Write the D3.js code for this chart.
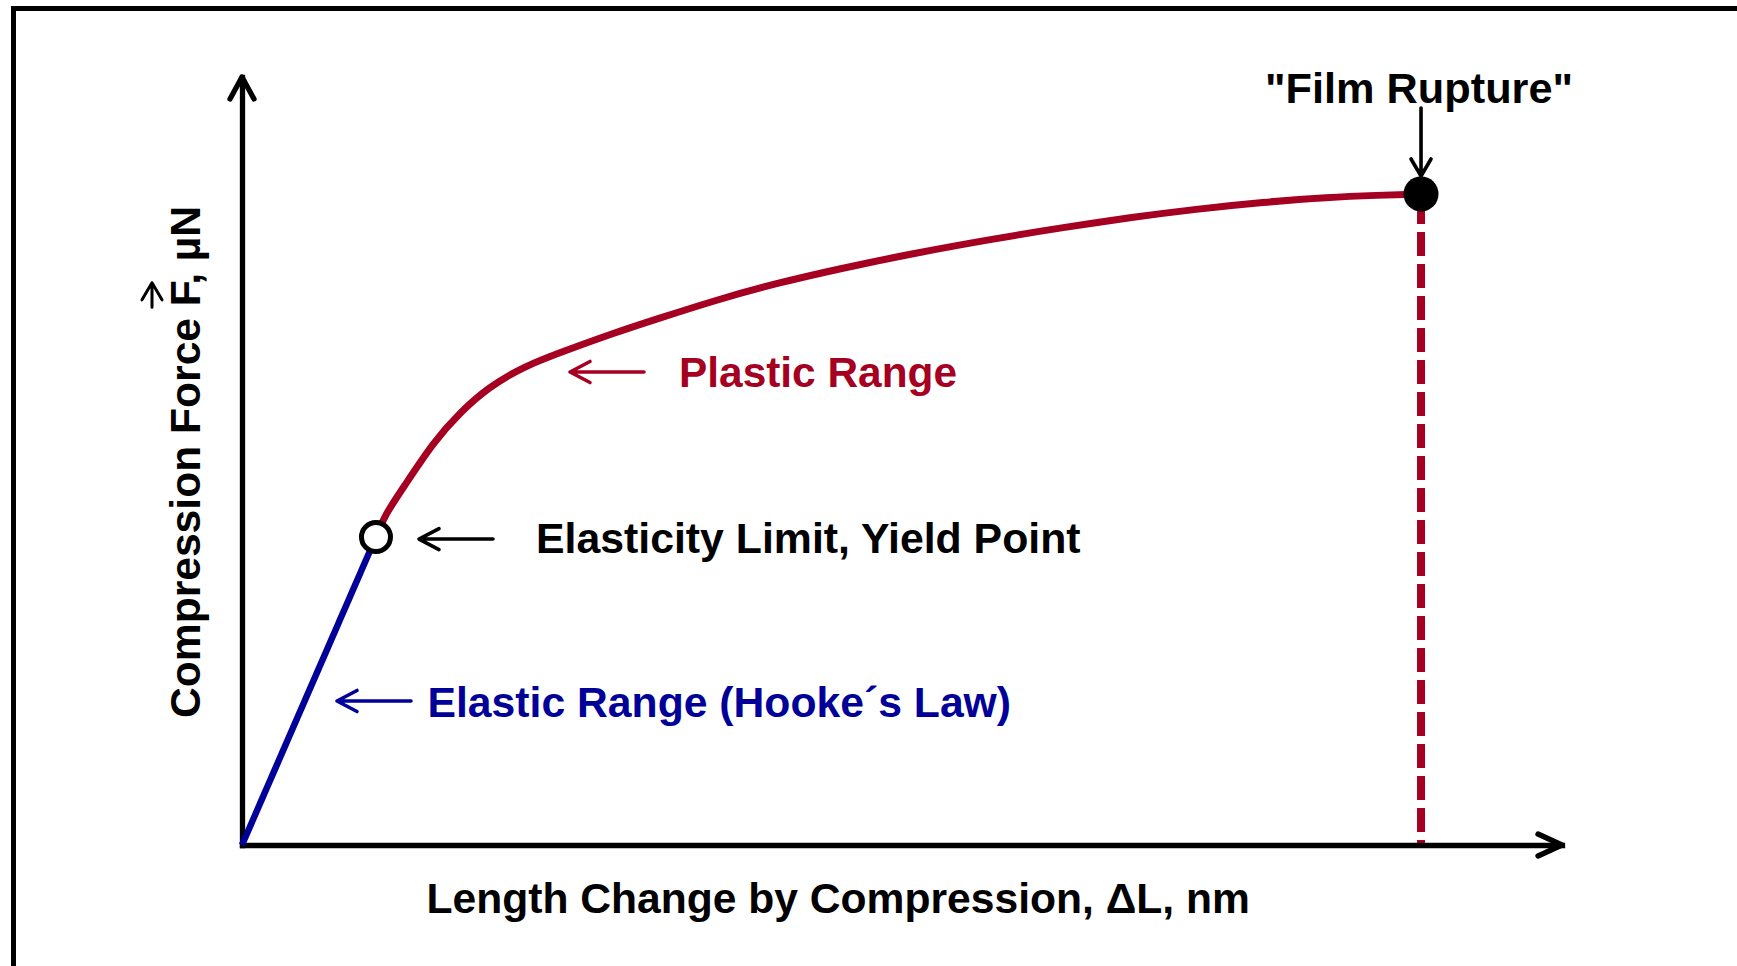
<!DOCTYPE html>
<html>
<head>
<meta charset="utf-8">
<script src="https://cdn.jsdelivr.net/npm/d3@7"></script>
<style>
  html, body { margin: 0; padding: 0; background: #fff; }
  svg { display: block; }
  text { font-family: "Liberation Sans", Arial, Helvetica, sans-serif; font-weight: bold; }
</style>
</head>
<body>
<svg id="chart" width="1737" height="966"></svg>
<script>
// ---------------- data (arbitrary units) ----------------
const elasticX = [0, 10.15];
const elasticY = [0, 40.1];
const plasticX = [10.15, 10.8, 12.17, 14.55, 16.57, 18.6, 21.29, 24.7, 28.07, 31.44, 36.0, 40.38, 45.45, 50.45, 57.2, 62.2, 67.27, 72.27, 77.35, 82.35, 86.0, 89.32];
const plasticY = [40.1, 42.9, 46.4, 52.6, 56.4, 59.5, 62.3, 64.5, 66.6, 68.5, 71.0, 73.1, 75.1, 76.9, 79.0, 80.4, 81.7, 82.8, 83.7, 84.35, 84.6, 84.77];
const yieldPoint = [10.15, 40.1];
const rupturePoint = [89.32, 84.77];
const xDomain = [0, 100];
const yDomain = [0, 100];

const xLabel = "Length Change by Compression, \u0394L, nm";
const yLabelParts = ["Compression Force ", "F", ", \u00B5N"];
const plasticLabel = "Plastic Range";
const yieldLabel = "Elasticity Limit, Yield Point";
const elasticLabel = "Elastic Range (Hooke\u00B4s Law)";
const ruptureLabel = "\"Film Rupture\"";

// ---------------- styles ----------------
const RED = "#A50021";
const BLUE = "#000099";
const BLACK = "#000";

const svg = d3.select("#chart");

const x = d3.scaleLinear().domain(xDomain).range([242, 1562]);
const y = d3.scaleLinear().domain(yDomain).range([845, 77]);

// outer frame
svg.append("rect")
  .attr("x", 13.5).attr("y", 8.5)
  .attr("width", 1800).attr("height", 1000)
  .attr("fill", "none").attr("stroke", BLACK).attr("stroke-width", 5);

// dashed rupture line (behind everything)
svg.append("line")
  .attr("x1", x(rupturePoint[0])).attr("x2", x(rupturePoint[0]))
  .attr("y1", y(rupturePoint[1])).attr("y2", y(0))
  .attr("stroke", RED).attr("stroke-width", 8)
  .attr("stroke-dasharray", "24 8").attr("stroke-dashoffset", 26);

// axes
svg.append("g").attr("transform", `translate(0,${y(0)})`)
  .call(d3.axisBottom(x).tickValues([]).tickSizeOuter(0));
svg.append("g").attr("transform", `translate(${x(0)},0)`)
  .call(d3.axisLeft(y).tickValues([]).tickSizeOuter(0));
svg.selectAll(".domain")
  .attr("stroke", BLACK).attr("stroke-width", 5.3).attr("stroke-linecap", "square");

// axis arrowheads
const ax = x(xDomain[1]), ay = y(0);
svg.append("path")
  .attr("d", `M${ax - 24},${ay - 11}L${ax},${ay}L${ax - 24},${ay + 11}`)
  .attr("fill", "none").attr("stroke", BLACK).attr("stroke-width", 5.3)
  .attr("stroke-linecap", "round").attr("stroke-linejoin", "round");
const bx = x(0), by = y(yDomain[1]);
svg.append("path")
  .attr("d", `M${bx - 12},${by + 22}L${bx},${by}L${bx + 12},${by + 22}`)
  .attr("fill", "none").attr("stroke", BLACK).attr("stroke-width", 5.3)
  .attr("stroke-linecap", "round").attr("stroke-linejoin", "round");

// curves
const line = d3.line().x(d => x(d[0])).y(d => y(d[1]));
svg.append("path")
  .datum(elasticX.map((v, i) => [v, elasticY[i]]))
  .attr("d", line)
  .attr("fill", "none").attr("stroke", BLUE).attr("stroke-width", 6.5);

const smooth = d3.line().x(d => x(d[0])).y(d => y(d[1])).curve(d3.curveBasis);
svg.append("path")
  .datum(plasticX.map((v, i) => [v, plasticY[i]]))
  .attr("d", smooth)
  .attr("fill", "none").attr("stroke", RED).attr("stroke-width", 7);

// points
svg.append("circle")
  .attr("cx", x(yieldPoint[0])).attr("cy", y(yieldPoint[1])).attr("r", 14.5)
  .attr("fill", "#fff").attr("stroke", BLACK).attr("stroke-width", 5);
svg.append("circle")
  .attr("cx", x(rupturePoint[0])).attr("cy", y(rupturePoint[1])).attr("r", 17.5)
  .attr("fill", BLACK);

// annotation arrows (pointing left / down)
function leftArrow(x1, x2, yy, color) {
  svg.append("path")
    .attr("d", `M${x2},${yy}L${x1},${yy}M${x1 + 20},${yy - 10.5}L${x1},${yy}L${x1 + 20},${yy + 10.5}`)
    .attr("fill", "none").attr("stroke", color).attr("stroke-width", 3.6)
    .attr("stroke-linecap", "round").attr("stroke-linejoin", "round");
}
leftArrow(570, 644, 372, RED);
leftArrow(419, 493, y(yieldPoint[1]) + 2, BLACK);
leftArrow(337, 411, 701, BLUE);

const rx = x(rupturePoint[0]);
const ry = y(rupturePoint[1]);
svg.append("path")
  .attr("d", `M${rx},108L${rx},${ry - 18}M${rx - 10},${ry - 35}L${rx},${ry - 18}L${rx + 10},${ry - 35}`)
  .attr("fill", "none").attr("stroke", BLACK).attr("stroke-width", 3.6)
  .attr("stroke-linecap", "round").attr("stroke-linejoin", "round");

// labels
svg.append("text").attr("x", 679).attr("y", 387).attr("font-size", 42.4)
  .attr("fill", RED).text(plasticLabel);
svg.append("text").attr("x", 536).attr("y", 553).attr("font-size", 42.8)
  .attr("fill", BLACK).text(yieldLabel);
svg.append("text").attr("x", 427.5).attr("y", 717).attr("font-size", 42.7)
  .attr("fill", BLUE).text(elasticLabel);
svg.append("text").attr("x", 1265).attr("y", 103).attr("font-size", 43.3)
  .attr("fill", BLACK).text(ruptureLabel);
svg.append("text").attr("x", 426.5).attr("y", 913).attr("font-size", 42.6)
  .attr("fill", BLACK).text(xLabel);

// rotated y label with vector arrow over F
const yg = svg.append("g").attr("transform", "translate(200,718) rotate(-90)");
const yt = yg.append("text").attr("x", 0).attr("y", 0).attr("font-size", 42.6).attr("fill", BLACK);
yLabelParts.forEach(p => yt.append("tspan").text(p));
const fIndex = yLabelParts[0].length;
const node = yt.node();
const fs = node.getStartPositionOfChar(fIndex).x;
const fe = node.getEndPositionOfChar(fIndex).x;
const a1 = fs - 1, a2 = fe + 2, ayy = -48;
yg.append("path")
  .attr("d", `M${a1},${ayy}L${a2},${ayy}M${a2 - 17},${ayy - 10}L${a2},${ayy}L${a2 - 17},${ayy + 10}`)
  .attr("fill", "none").attr("stroke", BLACK).attr("stroke-width", 3)
  .attr("stroke-linecap", "round").attr("stroke-linejoin", "round");
</script>
</body>
</html>
